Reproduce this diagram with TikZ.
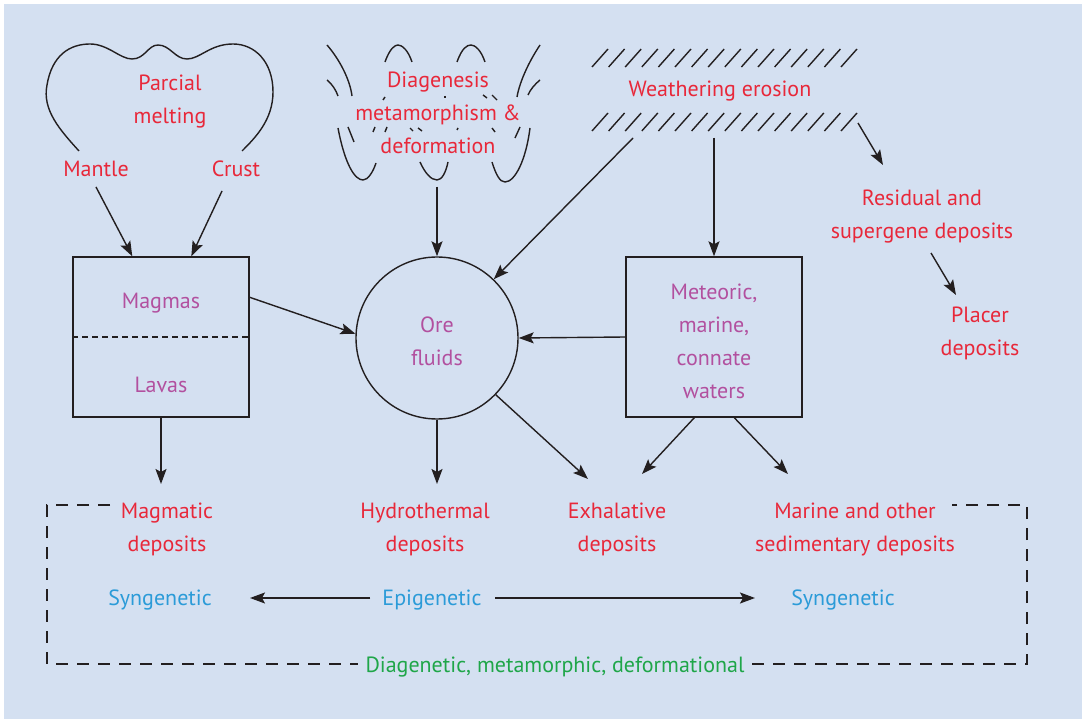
\documentclass[tikz,border=0pt]{standalone}
\usepackage{fontspec}
\setmainfont{PT Sans}
\usetikzlibrary{arrows.meta,calc}
\definecolor{bg}{HTML}{D4E0F1}
\definecolor{tred}{HTML}{E8283A}
\definecolor{tpur}{HTML}{B2509F}
\definecolor{tblu}{HTML}{2B9BD8}
\definecolor{tgrn}{HTML}{1FA649}
\definecolor{ink}{HTML}{231F20}
\begin{document}
\begin{tikzpicture}[x=1pt,y=-1pt,line width=1.4pt,draw=ink,
  arr/.style={-{Stealth[length=15pt,width=11pt,inset=3pt]},line width=1.4pt,draw=ink,fill=ink},
  lbl/.style={font=\fontsize{22}{33}\selectfont,align=center,inner sep=2pt,yshift=-2pt},
  rtxt/.style={lbl,text=tred},
  ptxt/.style={lbl,text=tpur},
  btxt/.style={lbl,text=tblu},
  gtxt/.style={lbl,text=tgrn},
  dsh/.style={dash pattern=on 12pt off 9pt},
  boxn/.style={draw,minimum width=176pt,minimum height=160pt,inner sep=0pt}]
\useasboundingbox (0,0) rectangle (1082,719);
\fill[white] (0,0) rectangle (1082,719);
\fill[bg] (4,4) rectangle (1082,719);

% Parcial melting outline
\draw (79,151) .. controls (60,130) and (42,110) .. (47,85)
  .. controls (52,55) and (70,44) .. (90,44)
  .. controls (108,44) and (120,59) .. (132,59)
  .. controls (145,59) and (148,45) .. (158,45)
  .. controls (170,45) and (175,59) .. (187,59)
  .. controls (200,59) and (210,44) .. (233,44)
  .. controls (255,44) and (273,62) .. (273,92)
  .. controls (273,120) and (255,138) .. (242,151);
\node[rtxt] (parc) at (170,100) {Parcial\\melting};
\node[rtxt] (mantle) at (96,167) {Mantle};
\node[rtxt] (crust) at (236,167) {Crust};

% folds
\draw (327,45) .. controls (340,60) and (350,80) .. (352,96);
\draw (327,80) .. controls (332,84) and (336,90) .. (338,96);
\draw (338,128) .. controls (345,165) and (355,180) .. (363,180) .. controls (368,180) and (373,172) .. (376,163);
\draw (348,127) -- (354,142);
\draw (385,62) .. controls (390,48) and (395,45) .. (398,45) .. controls (402,45) and (408,50) .. (412,62);
\draw (457,62) .. controls (462,48) and (467,45) .. (471,45) .. controls (475,45) and (481,50) .. (485,62);
\draw (420,162) .. controls (425,173) and (431,180) .. (437,180) .. controls (442,180) and (446,172) .. (448,162);
\draw (492,162) .. controls (496,175) and (500,182) .. (505,182) .. controls (515,182) and (526,160) .. (530,128);
\draw (540,45) .. controls (530,60) and (520,80) .. (517,97);
\draw (540,80) .. controls (535,84) and (530,90) .. (528,95);
\draw (520,127) -- (515,138);
\draw (385,97) -- (383,100);
\draw (375,127) -- (373,132);
\draw (387,127) -- (385,132);
\draw (410,128) -- (413,131);
\draw (418,128) -- (422,131);
\draw (445,96) -- (445,98);
\draw (458,128) -- (457,130);
\draw (483,95) -- (487,98);
\draw (492,95) -- (497,100);
\draw (492,128) -- (495,132);
\node[rtxt] (diag) at (438,111) {Diagenesis\\metamorphism \&\\deformation};

% weathering hatches
\foreach \i in {0,...,15}{
  \draw (592+\i*16.6,67) -- ++(16,-18);
  \draw (592+\i*16.6,131) -- ++(16,-18);
}
\node[rtxt] (weath) at (720,89) {Weathering erosion};
\node[rtxt] (resid) at (922,215) {Residual and\\supergene deposits};
\node[rtxt] (placer) at (980,331) {Placer\\deposits};

% boxes and circle
\node[boxn] (magbox) at (161,337) {};
\draw[dash pattern=on 6pt off 4pt] (magbox.west) -- (magbox.east);
\node[ptxt] (magmas) at (161,301) {Magmas};
\node[ptxt] (lavas) at (161,383) {Lavas};
\node[draw,circle,minimum size=162pt,inner sep=0pt] (ore) at (437,338) {};
\node[ptxt] (oretxt) at (437,339) {Ore\\fluids};
\node[boxn] (metbox) at (714,337) {};
\node[ptxt] (mettxt) at (714,339) {Meteoric,\\marine,\\connate\\waters};

% deposits
\node[rtxt] (magdep) at (167,527) {Magmatic\\deposits};
\node[rtxt] (hyd) at (425,527) {Hydrothermal\\deposits};
\node[rtxt] (exh) at (617,527) {Exhalative\\deposits};
\node[rtxt] (mar) at (855,527) {Marine and other\\sedimentary deposits};
\node[btxt] (syn1) at (160,598) {Syngenetic};
\node[btxt] (epi) at (432,598) {Epigenetic};
\node[btxt] (syn2) at (843,598) {Syngenetic};
\node[gtxt] (dia) at (555,665) {Diagenetic, metamorphic, deformational};

% connector end points
\coordinate (mS) at (96,187);
\coordinate (cS) at (222,191);
\coordinate (mT) at ($(magbox.north west)+(60,0)$);
\coordinate (cT) at ($(magbox.north west)+(119,0)$);
\coordinate (dS) at (437,187);
\coordinate (wS1) at (633,138);
\coordinate (wS2) at (714,138);
\coordinate (wS3) at (858,123);
\coordinate (rT) at (883,165);
\coordinate (rS) at (931,253);
\coordinate (pT) at (956,295);
\coordinate (mgE) at ($(magbox.north east)+(0,41)$);
\coordinate (mbL) at ($(metbox.south west)+(69,0)$);
\coordinate (mbR) at ($(metbox.south west)+(109,0)$);
\coordinate (exL) at (642,474);
\coordinate (marT) at (788,474);
\coordinate (exT) at (588,479);
\coordinate (hydT) at (437,484);
\coordinate (magT) at (161,484);

\draw[arr] (mS) -- (mT);
\draw[arr] (cS) -- (cT);
\draw[arr] (dS) -- (ore.north);
\draw[arr] (wS1) -- (ore.46);
\draw[arr] (wS2) -- (metbox.north);
\draw[arr] (wS3) -- (rT);
\draw[arr] (rS) -- (pT);
\draw[arr] (mgE) -- (ore.177);
\draw[arr] (metbox.west) -- (ore.east);
\draw[arr] (mbL) -- (exL);
\draw[arr] (mbR) -- (marT);
\draw[arr] (ore.-44) -- (exT);
\draw[arr] (ore.south) -- (hydT);
\draw[arr] (magbox.south) -- (magT);
\draw[arr] (370,598) -- (250,598);
\draw[arr] (495,598) -- (755,598);

% dashed frame
\draw[dsh] (110,505) -- (47,505) -- (47,664) -- (358,664);
\draw[dsh] (752,664) -- (1027,664) -- (1027,505) -- (952,505);
\end{tikzpicture}
\end{document}
